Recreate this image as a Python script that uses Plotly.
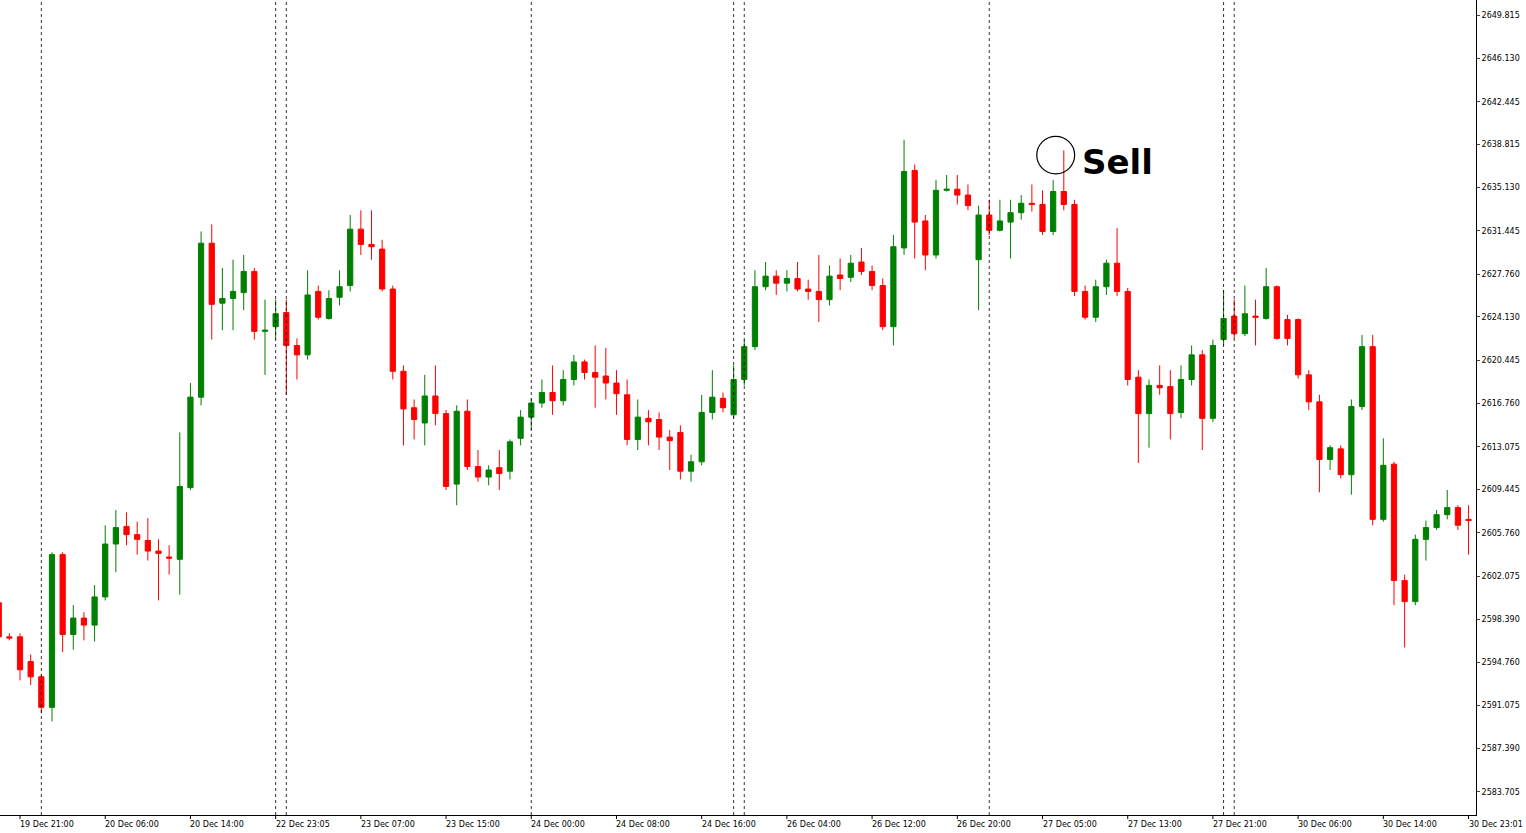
import plotly.graph_objects as go

# hourly XAUUSD-style candles
opens = [2599.8, 2596.9, 2596.9, 2594.8, 2593.5, 2590.9, 2603.9, 2597.1, 2598.5, 2597.9,
         2600.3, 2604.8, 2606.3, 2605.6, 2605.1, 2604.2, 2603.7, 2603.5, 2609.6, 2617.3,
         2630.4, 2625.3, 2625.7, 2626.2, 2628.0, 2622.9, 2623.3, 2624.5, 2621.7, 2620.9,
         2626.3, 2624.0, 2625.8, 2626.8, 2631.6, 2630.3, 2629.9, 2626.5, 2619.5, 2616.4,
         2615.1, 2617.4, 2615.9, 2609.9, 2616.1, 2611.4, 2610.5, 2611.3, 2611.0, 2613.8,
         2615.6, 2616.8, 2617.7, 2617.0, 2618.8, 2620.3, 2619.4, 2619.1, 2618.5, 2617.5,
         2613.7, 2615.5, 2615.4, 2613.9, 2614.3, 2611.0, 2611.8, 2616.0, 2617.2, 2615.8,
         2618.8, 2621.6, 2626.7, 2627.6, 2627.0, 2627.4, 2626.5, 2626.3, 2625.6, 2627.7,
         2627.5, 2628.8, 2628.0, 2626.8, 2623.3, 2630.0, 2636.6, 2632.3, 2629.4, 2634.9,
         2635.0, 2634.5, 2629.0, 2632.8, 2631.5, 2632.2, 2633.0, 2633.8, 2633.7, 2631.4,
         2634.8, 2633.7, 2626.3, 2624.1, 2626.7, 2628.7, 2626.3, 2619.0, 2615.9, 2618.3,
         2618.2, 2616.0, 2618.8, 2620.9, 2615.5, 2622.2, 2624.2, 2622.7, 2624.2, 2624.0,
         2626.7, 2623.9, 2623.9, 2619.2, 2616.9, 2612.0, 2612.9, 2610.7, 2616.5, 2621.6,
         2606.9, 2611.6, 2601.7, 2599.9, 2605.2, 2606.2, 2607.3, 2607.9, 2606.9]
closes = [2596.9, 2596.8, 2594.1, 2593.5, 2590.9, 2603.9, 2597.1, 2598.5, 2597.9, 2600.3,
          2604.8, 2606.2, 2605.6, 2605.2, 2604.2, 2604.0, 2603.6, 2609.7, 2617.3, 2630.4,
          2625.2, 2625.7, 2626.3, 2628.0, 2622.9, 2623.0, 2624.4, 2621.7, 2620.9, 2626.0,
          2624.1, 2625.7, 2626.7, 2631.6, 2630.3, 2630.1, 2626.5, 2619.5, 2616.3, 2615.4,
          2617.4, 2615.9, 2609.7, 2616.1, 2611.4, 2610.5, 2611.1, 2610.8, 2613.5, 2615.6,
          2616.8, 2617.7, 2617.0, 2618.8, 2620.3, 2619.4, 2619.0, 2618.5, 2617.6, 2613.7,
          2615.6, 2615.2, 2613.9, 2613.6, 2611.0, 2611.8, 2616.0, 2617.3, 2616.4, 2618.8,
          2621.6, 2626.7, 2627.6, 2627.0, 2627.4, 2626.5, 2626.3, 2625.6, 2627.6, 2627.4,
          2628.7, 2628.0, 2626.8, 2623.3, 2630.1, 2636.5, 2632.2, 2629.4, 2634.9, 2635.0,
          2634.5, 2633.6, 2632.8, 2631.5, 2632.3, 2633.0, 2633.8, 2633.7, 2631.4, 2634.8,
          2633.7, 2626.3, 2624.1, 2626.7, 2628.7, 2626.3, 2618.8, 2615.9, 2618.3, 2618.1,
          2615.9, 2618.8, 2620.9, 2615.5, 2621.7, 2624.0, 2622.7, 2624.4, 2624.1, 2626.7,
          2622.3, 2622.3, 2619.2, 2616.9, 2612.0, 2613.0, 2610.7, 2616.5, 2621.6, 2606.9,
          2611.5, 2601.7, 2599.9, 2605.2, 2606.2, 2607.3, 2607.9, 2606.4, 2606.8]
highs = [2600.2, 2597.2, 2597.2, 2595.4, 2593.7, 2604.1, 2604.1, 2599.6, 2599.0, 2601.3,
         2606.4, 2607.7, 2607.5, 2606.7, 2607.0, 2605.2, 2604.7, 2614.3, 2618.5, 2631.4,
         2632.0, 2628.3, 2629.0, 2629.4, 2628.3, 2625.6, 2625.6, 2625.6, 2622.3, 2628.1,
         2626.8, 2626.4, 2628.1, 2632.8, 2633.2, 2633.2, 2630.7, 2626.8, 2620.0, 2617.1,
         2619.2, 2620.0, 2616.2, 2616.6, 2617.1, 2612.8, 2611.5, 2612.8, 2613.7, 2616.2,
         2617.2, 2618.8, 2620.0, 2619.6, 2620.9, 2620.5, 2621.7, 2621.5, 2619.6, 2618.8,
         2617.1, 2616.2, 2616.0, 2614.5, 2614.9, 2612.4, 2617.5, 2619.6, 2617.7, 2620.0,
         2622.2, 2628.1, 2628.8, 2628.1, 2628.1, 2628.8, 2627.3, 2629.4, 2628.5, 2629.1,
         2629.4, 2630.0, 2628.5, 2627.4, 2631.1, 2639.2, 2637.1, 2632.8, 2635.8, 2636.2,
         2636.2, 2635.4, 2633.6, 2634.1, 2634.1, 2634.1, 2634.5, 2635.4, 2634.9, 2635.8,
         2638.3, 2634.1, 2626.8, 2627.3, 2629.0, 2631.7, 2626.6, 2619.6, 2618.8, 2620.0,
         2619.6, 2620.0, 2621.7, 2621.3, 2622.2, 2626.4, 2625.6, 2626.8, 2625.6, 2628.3,
         2626.8, 2624.3, 2624.0, 2619.6, 2617.5, 2613.2, 2613.2, 2617.1, 2622.6, 2622.6,
         2613.8, 2611.8, 2602.2, 2605.6, 2606.8, 2607.7, 2609.4, 2608.1, 2608.1]
lows = [2596.6, 2596.6, 2593.2, 2592.8, 2590.4, 2589.7, 2595.6, 2595.8, 2596.6, 2596.5,
        2600.0, 2602.4, 2604.7, 2603.9, 2603.4, 2600.0, 2602.2, 2600.5, 2609.4, 2616.6,
        2622.2, 2623.0, 2623.0, 2624.7, 2622.2, 2619.2, 2622.2, 2617.5, 2618.8, 2620.5,
        2623.9, 2623.9, 2625.1, 2626.3, 2629.4, 2629.0, 2626.3, 2618.8, 2613.2, 2613.7,
        2613.2, 2614.9, 2609.4, 2608.1, 2611.1, 2610.1, 2609.8, 2609.4, 2610.3, 2613.2,
        2614.5, 2616.4, 2615.8, 2616.6, 2618.3, 2618.8, 2616.4, 2617.1, 2615.8, 2613.2,
        2612.8, 2613.2, 2612.8, 2611.1, 2610.3, 2610.1, 2611.5, 2615.4, 2616.0, 2615.5,
        2618.3, 2621.3, 2626.4, 2626.0, 2626.3, 2626.3, 2625.6, 2623.7, 2625.1, 2626.4,
        2627.1, 2627.7, 2626.4, 2623.0, 2621.7, 2629.4, 2629.1, 2628.1, 2629.1, 2634.8,
        2633.7, 2633.2, 2624.7, 2631.1, 2631.4, 2629.1, 2632.4, 2633.1, 2631.1, 2631.1,
        2633.2, 2625.9, 2623.9, 2623.7, 2626.0, 2625.9, 2618.3, 2611.7, 2613.0, 2617.5,
        2613.7, 2615.5, 2618.3, 2612.8, 2615.2, 2621.7, 2622.3, 2622.5, 2621.7, 2623.9,
        2622.2, 2621.7, 2618.9, 2616.2, 2609.2, 2611.1, 2610.4, 2609.0, 2616.2, 2606.4,
        2606.7, 2599.6, 2596.0, 2599.6, 2603.4, 2606.0, 2606.9, 2606.0, 2603.9]
idx = list(range(len(opens)))

date_labels = ["19 Dec 21:00", "20 Dec 06:00", "20 Dec 14:00", "22 Dec 23:05", "23 Dec 07:00",
               "23 Dec 15:00", "24 Dec 00:00", "24 Dec 08:00", "24 Dec 16:00", "26 Dec 04:00",
               "26 Dec 12:00", "26 Dec 20:00", "27 Dec 05:00", "27 Dec 13:00", "27 Dec 21:00",
               "30 Dec 06:00", "30 Dec 14:00", "30 Dec 23:01"]
date_pos = [2, 10, 18, 26, 34, 42, 50, 58, 66, 74, 82, 90, 98, 106, 114, 122, 130, 138]
separators = [4, 26, 27, 50, 69, 70, 93, 115, 116]
price_ticks = [2649.815, 2646.130, 2642.445, 2638.815, 2635.130, 2631.445, 2627.760, 2624.130,
               2620.445, 2616.760, 2613.075, 2609.445, 2605.760, 2602.075, 2598.390, 2594.760,
               2591.075, 2587.390, 2583.705]

fig = go.Figure(go.Candlestick(
    x=idx, open=opens, high=highs, low=lows, close=closes,
    increasing=dict(line=dict(color="#008000", width=1), fillcolor="#008000"),
    decreasing=dict(line=dict(color="#ff0000", width=1), fillcolor="#ff0000"),
    whiskerwidth=0, showlegend=False, hoverinfo="skip"))

for s in separators:
    fig.add_vline(x=s, line=dict(color="black", width=0.8, dash="dot"))

for lab, pos in zip(date_labels, date_pos):
    fig.add_annotation(x=pos, y=0, xref="x", yref="paper", yanchor="top", xanchor="left",
                       text=lab, showarrow=False, yshift=-3, xshift=-2,
                       font=dict(size=8, color="black"))
    fig.add_shape(type="line", x0=pos, x1=pos, y0=0, y1=-0.005, xref="x", yref="paper",
                  line=dict(color="black", width=1))

# sell marker
fig.add_shape(type="circle", xref="x", yref="y", x0=97.46, x1=101.02, y0=2636.3, y1=2639.5,
              line=dict(color="black", width=1.2))
fig.add_annotation(x=101.5, y=2637.3, xref="x", yref="y", text="<b>Sell</b>", showarrow=False,
                   xanchor="left", font=dict(size=34, color="black", family="Arial Black, DejaVu Sans"))

fig.update_layout(
    width=1526, height=833, paper_bgcolor="white", plot_bgcolor="white",
    margin=dict(l=0, r=50, t=0, b=18, autoexpand=False),
    font=dict(family="DejaVu Sans, Tahoma", size=8, color="black"),
    xaxis=dict(range=[0.12, 138.7], showgrid=False, showticklabels=False, zeroline=False,
               rangeslider=dict(visible=False), showline=True, linecolor="black", linewidth=1),
    yaxis=dict(side="right", range=[2581.74, 2651.1], tickvals=price_ticks,
               ticktext=[f"{v:.3f}" for v in price_ticks], showgrid=False, zeroline=False,
               showline=True, linecolor="black", linewidth=1, ticks="outside", ticklen=3,
               tickfont=dict(size=8)),
)

fig.write_html("out.html", config={"displayModeBar": False},
               post_script="document.body.style.margin='0';document.body.style.overflow='hidden';")
